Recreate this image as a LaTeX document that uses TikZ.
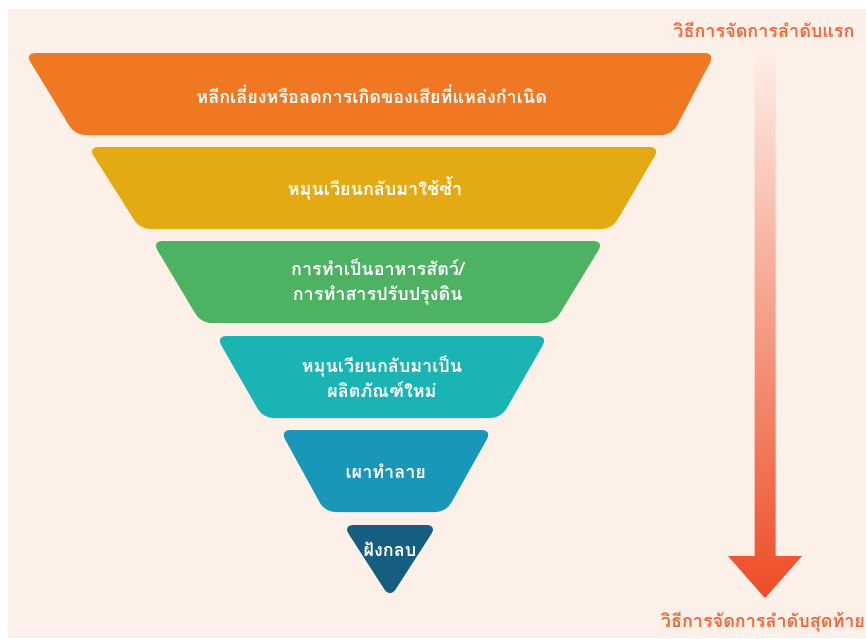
\documentclass[tikz,border=0pt]{standalone}
\usepackage{fontspec}
\newfontfamily\thaifont[Script=Thai]{Loma}
\definecolor{pagebg}{HTML}{FDF0E8}
\definecolor{tierA}{HTML}{F07822}
\definecolor{tierB}{HTML}{E3AA14}
\definecolor{tierC}{HTML}{4DB261}
\definecolor{tierD}{HTML}{1BB4B4}
\definecolor{tierE}{HTML}{1996B8}
\definecolor{tierF}{HTML}{155E80}
\definecolor{labelred}{HTML}{F2683A}
\definecolor{arrowred}{HTML}{EE4B25}
\tikzset{
	tiertext/.style={text=white,align=center,font=\thaifont\bfseries\fontsize{18}{25}\selectfont},
	sidelabel/.style={text=labelred,font=\thaifont\bfseries\fontsize{18}{20}\selectfont}
}
\begin{document}
\begin{tikzpicture}[x=1pt,y=-1pt]
	\useasboundingbox (0,0) rectangle (866,638);
	\fill[white] (0,0) rectangle (866,638);
	\fill[pagebg] (8,9) rectangle (866,638);
	% funnel, top to bottom
	\foreach[count=\i] \t/\l/\r/\bl/\br/\c/\txt in {
		53/25/715/75/672/tierA/{หลีกเลี่ยงหรือลดการเกิดของเสียที่แหล่งกำเนิด},
		147/88/660/140/612/tierB/{หมุนเวียนกลับมาใช้ซ้ำ},
		241/152/604/201/554/tierC/{การทำเป็นอาหารสัตว์/\\การทำสารปรับปรุงดิน},
		336/216/548/263/501/tierD/{หมุนเวียนกลับมาเป็น\\ผลิตภัณฑ์ใหม่},
		430/280/492/325/446/tierE/{เผาทำลาย}}
	{
		\fill[\c,rounded corners=10pt] (\l,\t)--(\r,\t)--(\br,\t+82)--(\bl,\t+82)--cycle;
		\node[tiertext] (tier\i) at ({(\l+\r+\bl+\br)/4},\t+41) {\txt};
	}
	\fill[tierF,rounded corners=10pt] (343,525)--(437,525)--(390,598)--cycle;
	\node[tiertext] (tier6) at (390,549) {ฝังกลบ};
	% order arrow
	\node[sidelabel] (first) at (764,30) {วิธีการจัดการลำดับแรก};
	\node[sidelabel] (last) at (763,622) {วิธีการจัดการลำดับสุดท้าย};
	\coordinate (arrtop) at (765,47);
	\coordinate (arrtip) at (765,598);
	\shade[top color=pagebg,bottom color=arrowred]
		([xshift=-10.5pt]arrtop)--([xshift=10.5pt]arrtop)--([xshift=10.5pt,yshift=42pt]arrtip)
		--([xshift=37pt,yshift=42pt]arrtip)--(arrtip)--([xshift=-37pt,yshift=42pt]arrtip)
		--([xshift=-10.5pt,yshift=42pt]arrtip)--cycle;
\end{tikzpicture}
\end{document}
